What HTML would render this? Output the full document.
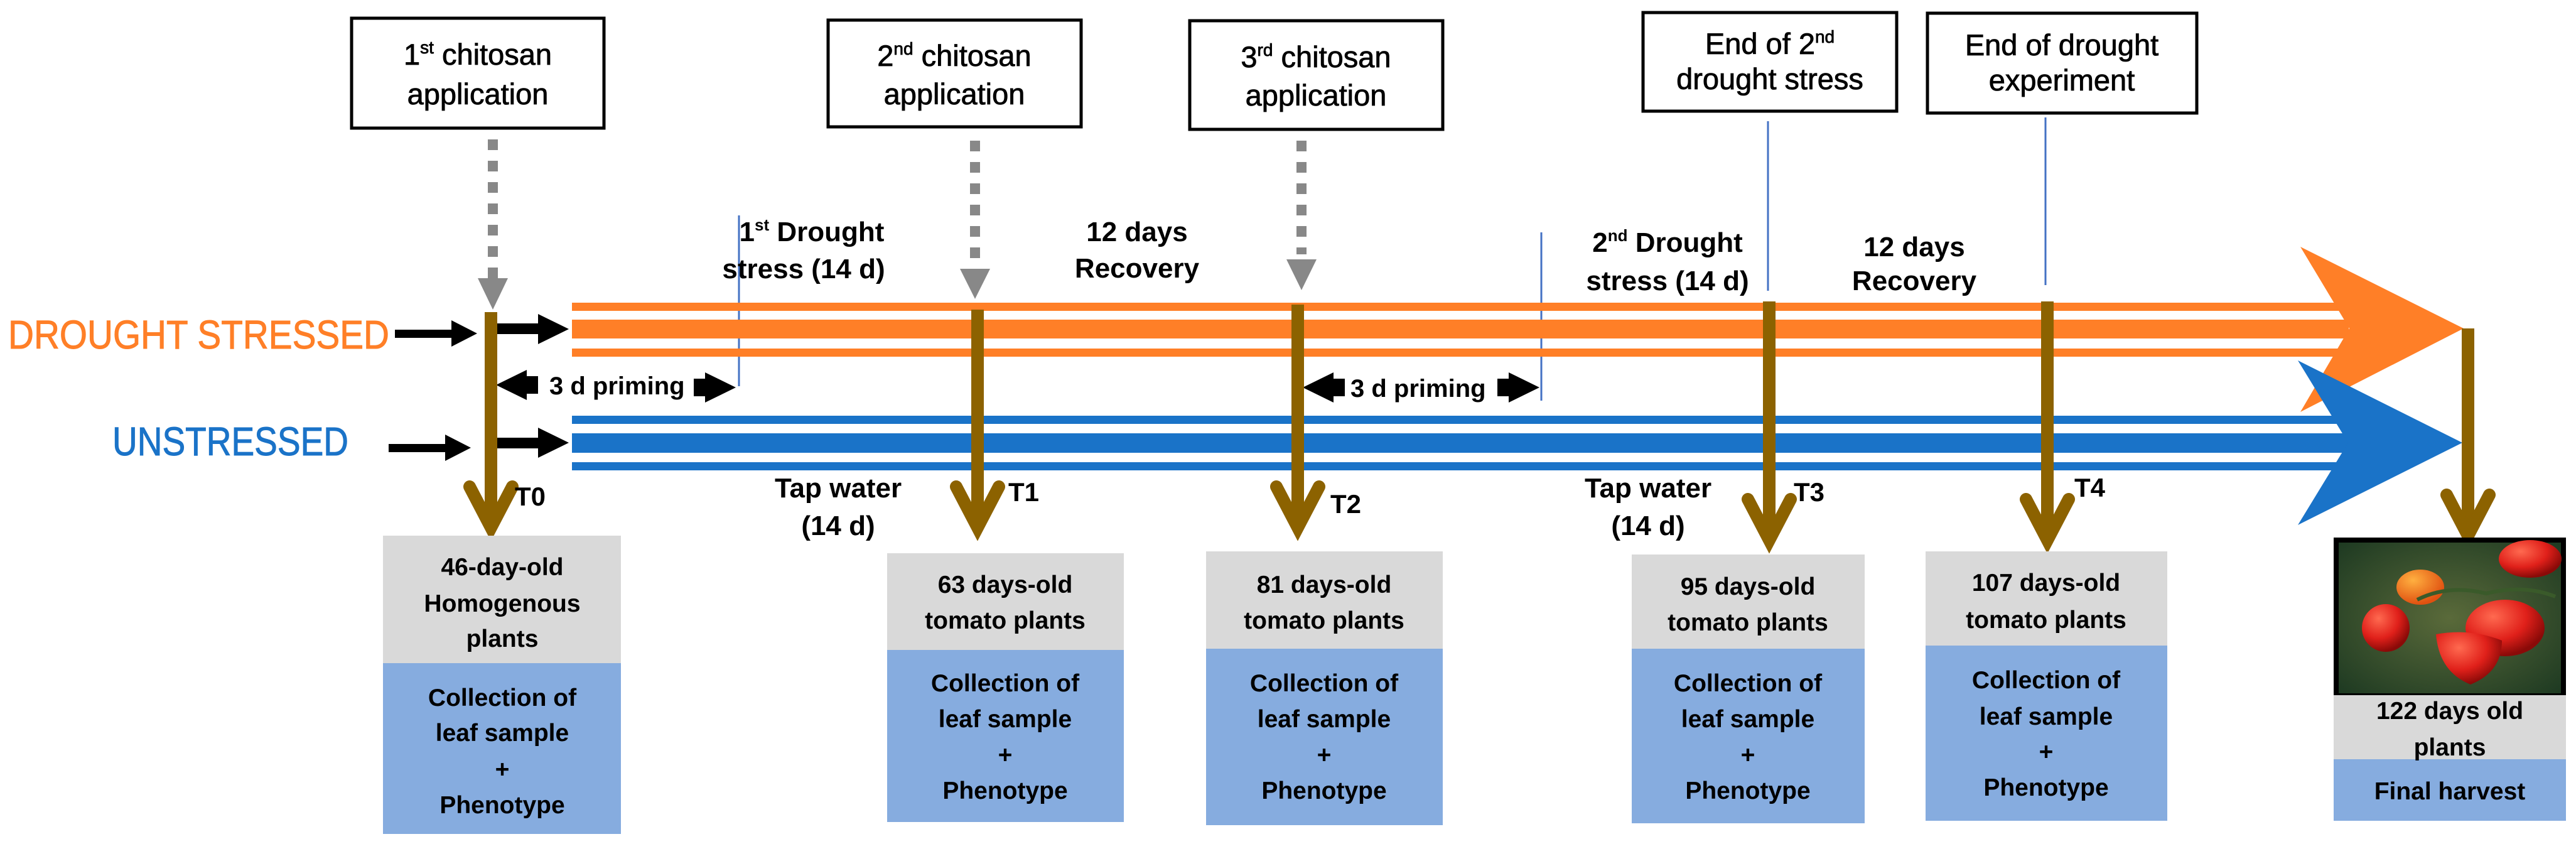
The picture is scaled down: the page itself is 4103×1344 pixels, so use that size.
<!DOCTYPE html>
<html><head><meta charset="utf-8"><style>
html,body{margin:0;padding:0;background:#fff;}
svg{display:block;}
text{font-family:"Liberation Sans",sans-serif;}
</style></head><body>
<svg width="4103" height="1344" viewBox="0 0 4103 1344" xmlns="http://www.w3.org/2000/svg">
<defs>
<radialGradient id="bg" cx="0.5" cy="0.5" r="0.7"><stop offset="0" stop-color="#5a6a3a"/><stop offset="1" stop-color="#1e3a22"/></radialGradient>
<radialGradient id="tr" cx="0.35" cy="0.3" r="0.7"><stop offset="0" stop-color="#ff6a50"/><stop offset="0.6" stop-color="#e0201a"/><stop offset="1" stop-color="#8a0a08"/></radialGradient>
<radialGradient id="to" cx="0.35" cy="0.3" r="0.7"><stop offset="0" stop-color="#ffb040"/><stop offset="1" stop-color="#e05010"/></radialGradient>
</defs>

<!-- top boxes -->
<g fill="#fff" stroke="#000" stroke-width="5">
<rect x="560" y="29" width="402" height="175"/>
<rect x="1319" y="32" width="403" height="170"/>
<rect x="1895" y="33" width="403" height="173"/>
<rect x="2617" y="20" width="404" height="157"/>
<rect x="3070" y="21" width="429" height="159"/>
</g>
<g font-size="47" text-anchor="middle" fill="#000" stroke="#000" stroke-width="0.8">
<text x="761" y="103">1<tspan font-size="28" dy="-18">st</tspan><tspan dy="18"> chitosan</tspan></text>
<text x="761" y="166">application</text>
<text x="1520" y="105">2<tspan font-size="28" dy="-18">nd</tspan><tspan dy="18"> chitosan</tspan></text>
<text x="1520" y="166">application</text>
<text x="2096" y="107">3<tspan font-size="28" dy="-18">rd</tspan><tspan dy="18"> chitosan</tspan></text>
<text x="2096" y="168">application</text>
<text x="2819" y="86">End of 2<tspan font-size="28" dy="-18">nd</tspan></text>
<text x="2819" y="142">drought stress</text>
<text x="3284" y="88">End of drought</text>
<text x="3284" y="144">experiment</text>
</g>

<!-- dotted gray arrows -->
<g stroke="#888" stroke-width="16" stroke-dasharray="17 17">
<line x1="785" y1="222" x2="785" y2="445"/>
<line x1="1553" y1="224" x2="1553" y2="420"/>
<line x1="2073" y1="224" x2="2073" y2="405"/>
</g>
<g fill="#888">
<polygon points="761,443 809,443 785,493"/>
<polygon points="1529,428 1577,428 1553,476"/>
<polygon points="2049,413 2097,413 2073,462"/>
</g>

<!-- thin blue marker lines -->
<g stroke="#4472c4" stroke-width="3">
<line x1="1177" y1="343" x2="1177" y2="615"/>
<line x1="2455" y1="370" x2="2455" y2="638"/>
<line x1="2816" y1="193" x2="2816" y2="463"/>
<line x1="3258" y1="187" x2="3258" y2="454"/>
</g>

<!-- orange band -->
<g fill="#ff7f27">
<rect x="911" y="482" width="2830" height="13"/>
<rect x="911" y="509" width="2830" height="30"/>
<rect x="911" y="555" width="2830" height="13"/>
<polygon points="3664,393 3924,523 3664,656 3742,523"/>
</g>
<!-- blue band -->
<g fill="#1a73c8">
<rect x="911" y="662" width="2830" height="13"/>
<rect x="911" y="690" width="2830" height="31"/>
<rect x="911" y="736" width="2830" height="13"/>
<polygon points="3660,574 3922,705 3660,836 3740,705"/>
</g>

<!-- black arrows -->
<g fill="#000">
<rect x="629" y="525" width="95" height="13"/><polygon points="719,510 760,531 719,552"/>
<rect x="790" y="515" width="70" height="17"/><polygon points="857,500 906,524 857,548"/>
<rect x="619" y="707" width="95" height="13"/><polygon points="709,692 750,713 709,734"/>
<rect x="790" y="697" width="70" height="17"/><polygon points="857,681 906,705 857,729"/>
<!-- priming arrows -->
<polygon points="790,613 839,589 839,599 857,599 857,627 839,627 839,637"/>
<polygon points="1172,617 1123,593 1123,603 1105,603 1105,631 1123,631 1123,641"/>
<polygon points="2075,617 2124,593 2124,603 2142,603 2142,631 2124,631 2124,641"/>
<polygon points="2452,617 2403,593 2403,603 2385,603 2385,631 2403,631 2403,641"/>
</g>
<g font-size="40" font-weight="bold" fill="#000">
<text x="875" y="628">3 d priming</text>
<text x="2151" y="632">3 d priming</text>
</g>

<!-- brown lines -->
<g stroke="#8c6200" stroke-width="20" fill="none">
<line x1="782" y1="497" x2="782" y2="835"/>
<line x1="1557" y1="493" x2="1557" y2="835"/>
<line x1="2067" y1="485" x2="2067" y2="835"/>
<line x1="2818" y1="480" x2="2818" y2="855"/>
<line x1="3261" y1="480" x2="3261" y2="855"/>
<line x1="3931" y1="523" x2="3931" y2="848"/>
</g>
<g stroke="#8c6200" stroke-width="20" fill="none" stroke-linejoin="miter" stroke-linecap="round">
<polyline points="748,775 782,840 816,775"/>
<polyline points="1523,775 1557,840 1591,775"/>
<polyline points="2033,775 2067,840 2101,775"/>
<polyline points="2784,795 2818,860 2852,795"/>
<polyline points="3227,795 3261,860 3295,795"/>
<polyline points="3897,788 3931,853 3965,788"/>
</g>

<!-- side labels -->
<text x="13" y="555" font-size="64" fill="#ff7f27" stroke="#ff7f27" stroke-width="1" textLength="607" lengthAdjust="spacingAndGlyphs">DROUGHT STRESSED</text>
<text x="179" y="725" font-size="64" fill="#1a73c8" stroke="#1a73c8" stroke-width="1" textLength="376" lengthAdjust="spacingAndGlyphs">UNSTRESSED</text>

<!-- mid labels -->
<g font-size="44" font-weight="bold" fill="#000" text-anchor="middle">
<text x="1293" y="384">1<tspan font-size="26" dy="-17">st</tspan><tspan dy="17"> Drought</tspan></text>
<text x="1280" y="443">stress (14 d)</text>
<text x="1811" y="384">12 days</text>
<text x="1811" y="442">Recovery</text>
<text x="2656" y="401">2<tspan font-size="26" dy="-17">nd</tspan><tspan dy="17"> Drought</tspan></text>
<text x="2656" y="462">stress (14 d)</text>
<text x="3049" y="408">12 days</text>
<text x="3049" y="462">Recovery</text>
<text x="1335" y="792">Tap water</text>
<text x="1335" y="852">(14 d)</text>
<text x="2625" y="792">Tap water</text>
<text x="2625" y="852">(14 d)</text>
</g>
<g font-size="42" font-weight="bold" fill="#000">
<text x="820" y="805">T0</text>
<text x="1606" y="798">T1</text>
<text x="2119" y="817">T2</text>
<text x="2857" y="798">T3</text>
<text x="3304" y="791">T4</text>
</g>

<!-- bottom boxes -->
<g fill="#d9d9d9">
<rect x="610" y="853" width="379" height="203"/>
<rect x="1413" y="881" width="377" height="154"/>
<rect x="1921" y="878" width="377" height="155"/>
<rect x="2599" y="883" width="371" height="150"/>
<rect x="3067" y="878" width="385" height="150"/>
<rect x="3717" y="1107" width="370" height="102"/>
</g>
<g fill="#86acdf">
<rect x="610" y="1056" width="379" height="272"/>
<rect x="1413" y="1035" width="377" height="274"/>
<rect x="1921" y="1033" width="377" height="281"/>
<rect x="2599" y="1033" width="371" height="278"/>
<rect x="3067" y="1028" width="385" height="279"/>
<rect x="3717" y="1209" width="370" height="98"/>
</g>
<g font-size="39" font-weight="bold" fill="#000" text-anchor="middle">
<text x="800" y="916">46-day-old</text>
<text x="800" y="974">Homogenous</text>
<text x="800" y="1030">plants</text>
<text x="800" y="1124">Collection of</text>
<text x="800" y="1180">leaf sample</text>
<text x="800" y="1238">+</text>
<text x="800" y="1295">Phenotype</text>

<text x="1601" y="944">63 days-old</text>
<text x="1601" y="1001">tomato plants</text>
<text x="1601" y="1101">Collection of</text>
<text x="1601" y="1158">leaf sample</text>
<text x="1601" y="1215">+</text>
<text x="1601" y="1272">Phenotype</text>

<text x="2109" y="944">81 days-old</text>
<text x="2109" y="1001">tomato plants</text>
<text x="2109" y="1101">Collection of</text>
<text x="2109" y="1158">leaf sample</text>
<text x="2109" y="1215">+</text>
<text x="2109" y="1272">Phenotype</text>

<text x="2784" y="947">95 days-old</text>
<text x="2784" y="1004">tomato plants</text>
<text x="2784" y="1101">Collection of</text>
<text x="2784" y="1158">leaf sample</text>
<text x="2784" y="1215">+</text>
<text x="2784" y="1272">Phenotype</text>

<text x="3259" y="941">107 days-old</text>
<text x="3259" y="1000">tomato plants</text>
<text x="3259" y="1096">Collection of</text>
<text x="3259" y="1154">leaf sample</text>
<text x="3259" y="1210">+</text>
<text x="3259" y="1267">Phenotype</text>

<text x="3902" y="1145">122 days old</text>
<text x="3902" y="1203">plants</text>
<text x="3902" y="1273">Final harvest</text>
</g>

<!-- tomato photo -->
<rect x="3717" y="856" width="370" height="251" fill="#000"/>
<rect x="3725" y="864" width="354" height="240" fill="url(#bg)"/>
<g>
<ellipse cx="4030" cy="890" rx="50" ry="30" fill="url(#tr)"/>
<ellipse cx="3855" cy="935" rx="38" ry="28" fill="url(#to)"/>
<path d="M3850,955 Q3900,930 3960,945 Q4020,930 4070,950" stroke="#3a5a2a" stroke-width="6" fill="none"/>
<ellipse cx="3800" cy="1000" rx="38" ry="38" fill="url(#tr)"/>
<ellipse cx="3990" cy="1000" rx="63" ry="45" fill="url(#tr)"/>
<path d="M3880,1010 Q3935,1000 3985,1020 Q3985,1070 3935,1090 Q3885,1070 3880,1010 Z" fill="url(#tr)"/>
</g>
</svg>
</body></html>
